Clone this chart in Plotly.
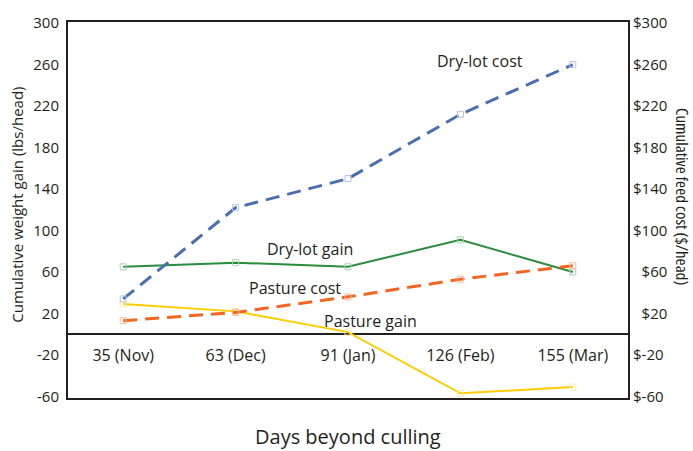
import plotly.graph_objects as go

categories = ["35 (Nov)", "63 (Dec)", "91 (Jan)", "126 (Feb)", "155 (Mar)"]
dry_lot_cost = [34, 122, 150, 212, 260]
dry_lot_gain = [65, 69, 65, 91, 60]
pasture_cost = [13, 21, 36, 53, 66]
pasture_gain = [29, 22, 2, -57, -51]

left_tickvals = [-60, -20, 20, 60, 100, 140, 180, 220, 260, 300]
left_ticktext = ["-60", "-20", "20", "60", "100", "140", "180", "220", "260", "300"]
right_ticktext = ["$-60", "$-20", "\u2007$20", "\u2007$60", "$100", "$140", "$180", "$220", "$260", "$300"]

labels = ["Dry-lot cost", "Dry-lot gain", "Pasture cost", "Pasture gain"]

YMIN, YMAX = -62.5, 302
FONT = "Open Sans"
DARK = "#231f20"

fig = go.Figure()

def add(y, color, mcolor, dash, width, axis):
    fig.add_trace(go.Scatter(
        x=categories, y=y, mode="lines+markers", yaxis=axis,
        line=dict(color=color, width=width, dash=dash),
        marker=dict(symbol="square-open", size=6, color=mcolor, line=dict(width=1, color=mcolor)),
        showlegend=False, hoverinfo="skip"))

add(dry_lot_gain, "#2a8c3c", "#a8d4ae", "solid", 2, "y")
add(pasture_gain, "#ffcc00", "#ffeaa0", "solid", 2, "y")
add(pasture_cost, "#f26522", "#f8b896", "14px,8px", 3, "y2")
add(dry_lot_cost, "#4a6fb0", "#b5c4df", "14px,8px", 3, "y2")

zero_pos = (0 - YMIN) / (YMAX - YMIN)

fig.update_layout(
    width=693, height=451,
    margin=dict(l=67, r=64, t=14, b=52),
    paper_bgcolor="white", plot_bgcolor="white",
    font=dict(family=FONT, color=DARK, size=15),
    xaxis=dict(type="category", range=[-0.5, 4.5], anchor="free", position=zero_pos,
               showline=False, showgrid=False, zeroline=False,
               ticks="outside", ticklen=7, tickcolor="rgba(0,0,0,0)",
               tickfont=dict(size=16, family=FONT, color=DARK)),
    yaxis=dict(range=[YMIN, YMAX], tickvals=left_tickvals, ticktext=left_ticktext,
               showgrid=False, zeroline=True, zerolinecolor=DARK, zerolinewidth=1.5,
               showline=False, ticks="", ticklabelstandoff=7,
               tickfont=dict(size=15, family=FONT, color=DARK)),
    yaxis2=dict(range=[YMIN, YMAX], overlaying="y", side="right", tickvals=left_tickvals,
                ticktext=right_ticktext, showgrid=False, zeroline=False, showline=False,
                ticks="", ticklabelstandoff=3, tickfont=dict(size=15, family=FONT, color=DARK)),
)

fig.add_shape(type="rect", xref="paper", yref="paper", x0=0, x1=1, y0=0, y1=1,
              line=dict(color=DARK, width=2), fillcolor="rgba(0,0,0,0)")

# series labels placed at data coordinates
label_pos = [(3.17, 263, "y2"), (1.66, 82, "y"), (1.53, 45, "y2"), (2.2, 13, "y")]
for text, (xc, yv, ax) in zip(labels, label_pos):
    fig.add_annotation(x=xc, y=yv, xref="x", yref=ax, text=text, showarrow=False,
                       font=dict(size=16, family=FONT, color=DARK))

fig.add_annotation(text="Days beyond culling", xref="paper", yref="paper", x=0.5, y=-0.099,
                   yanchor="middle", showarrow=False, font=dict(size=20, family=FONT, color=DARK))
fig.add_annotation(text="Cumulative weight gain (lbs/head)", xref="paper", yref="paper",
                   x=-0.089, xanchor="center", y=0.514, textangle=-90, showarrow=False,
                   font=dict(size=15, family=FONT, color=DARK))
fig.add_annotation(text="<span style='font-stretch:condensed'>Cumulative feed cost ($/head)</span>",
                   xref="paper", yref="paper",
                   x=1.094, xanchor="center", y=0.535, textangle=90, showarrow=False,
                   font=dict(size=17, family=FONT, color=DARK))

fig.write_html("out.html")
